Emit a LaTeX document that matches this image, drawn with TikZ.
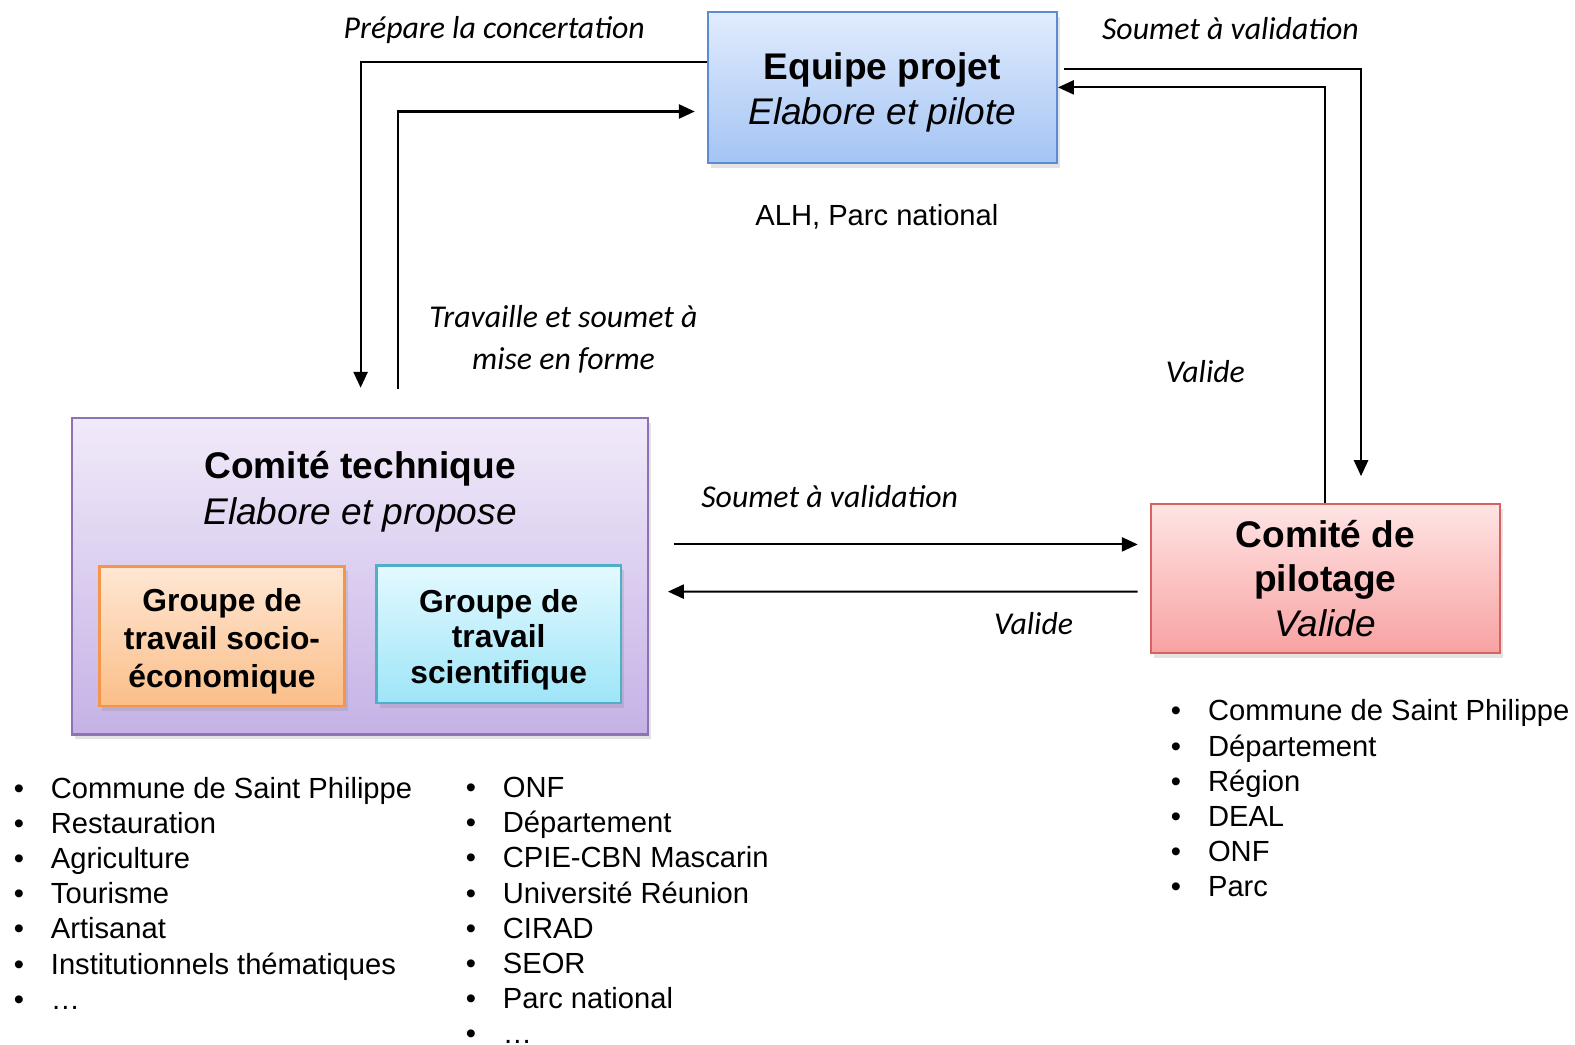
\documentclass[tikz,border=0pt]{standalone}
\usepackage{fontspec}
\setmainfont{Liberation Sans}
\newfontfamily\calibri{Carlito}
\usetikzlibrary{arrows.meta,shadows,calc}
\definecolor{eptop}{HTML}{E1ECFD}
\definecolor{epbot}{HTML}{A4C4F4}
\definecolor{epline}{HTML}{5B8BD0}
\definecolor{cttop}{HTML}{F1EAF9}
\definecolor{ctbot}{HTML}{C5B2E6}
\definecolor{ctline}{HTML}{8E72B5}
\definecolor{gstop}{HTML}{FFE7D4}
\definecolor{gsbot}{HTML}{FBBE88}
\definecolor{gsline}{HTML}{F4954A}
\definecolor{sctop}{HTML}{E4F9FF}
\definecolor{scbot}{HTML}{9DE5F8}
\definecolor{scline}{HTML}{4EAFC9}
\definecolor{cptop}{HTML}{FFE4E4}
\definecolor{cpbot}{HTML}{F8A2A2}
\definecolor{cpline}{HTML}{D9625F}
\newcommand{\itm}[1]{\makebox[0.37cm][l]{\textbullet}#1}

\begin{document}
\begin{tikzpicture}[x=0.01cm, y=-0.01cm,
    box/.style={draw, line width=0.7pt, align=center, inner sep=0pt,
      drop shadow={shadow xshift=0.03cm, shadow yshift=-0.05cm, opacity=0.22}},
    title/.style={font=\fontsize{10.5}{12.8}\selectfont},
    grp/.style={font=\fontsize{9}{10.6}\selectfont\bfseries},
    lbl/.style={font=\fontsize{9}{11.9}\selectfont\calibri\itshape, inner sep=0pt},
    txt/.style={font=\fontsize{8.25}{9.96}\selectfont, inner sep=0pt},
    lst/.style={txt, anchor=north west, align=left},
    arr/.style={-{Triangle[length=4.5pt,width=4pt]}, line width=0.6pt}]
  \useasboundingbox (0,0) rectangle (1568,1040);

  \node at (878.5,87) [box, top color=eptop, bottom color=epbot, draw=epline,
    minimum width=3.47cm, minimum height=1.5cm, title] (ep) {\rule{0pt}{10.4pt}\textbf{Equipe projet}\\\textit{Elabore et pilote}};
  \node at (873,216) [txt] (alh) {ALH, Parc national};

  \node at (358.5,573.5) [box, top color=cttop, bottom color=ctbot, draw=ctline,
    minimum width=5.73cm, minimum height=3.15cm] (ct) {};
  \node at (358.5,489.5) [title, align=center] (ct_title) {\textbf{Comité technique}\\\textit{Elabore et propose}};
  \node at (221,633.5) [box, top color=gstop, bottom color=gsbot, draw=gsline,
    minimum width=2.44cm, minimum height=1.39cm, grp, font=\fontsize{9}{10.7}\selectfont\bfseries] (gs) {\rule{0pt}{9.2pt}Groupe de\\travail socio-\\économique};
  \node at (496.5,631.5) [box, top color=sctop, bottom color=scbot, draw=scline,
    minimum width=2.43cm, minimum height=1.37cm, grp, font=\fontsize{9}{9.96}\selectfont\bfseries] (gsc) {\rule{0pt}{9.6pt}Groupe de\\travail\\scientifique};

  \node at (1319.5,576) [box, top color=cptop, bottom color=cpbot, draw=cpline,
    minimum width=3.47cm, minimum height=1.48cm, font=\fontsize{10.5}{12.5}\selectfont] (cp) {\textbf{Comité de}\\\textbf{pilotage}\\\textit{Valide}};

  \coordinate (ct_in) at (359,386);
  \coordinate (ct_out) at (396,387);
  \coordinate (cp_in) at (1355,474);
  \coordinate (sv_start) at (671,542);
  \coordinate (va_end) at (665,589);

  \draw[arr] ([yshift=0.25cm]ep.west) -| (ct_in);
  \draw[arr, shorten >=0.12cm] (ct_out) |- ([yshift=-0.24cm]ep.west);
  \draw[arr] ([xshift=0.06cm,yshift=0.18cm]ep.east) -| (cp_in);
  \draw[arr] (cp.north) |- (ep.east);
  \draw[arr, shorten >=0.12cm] (sv_start) -- (sv_start -| cp.west);
  \draw[arr, shorten <=0.12cm] ([yshift=-0.13cm]cp.west) -- (va_end);

  \node at (492,30) [lbl] (l_prep) {Prépare la concertation};
  \node at (1225,28) [lbl] (l_soum_ep) {Soumet à validation};
  \node at (561,337.5) [lbl, align=center] (l_trav) {Travaille et soumet à\\mise en forme};
  \node at (1200,370) [lbl] (l_val_ep) {Valide};
  \node at (826,494) [lbl] (l_soum_cp) {Soumet à validation};
  \node at (1029,621) [lbl] (l_val_ct) {Valide};

  \node at (13,773) [lst] (lst_socio) {\itm{Commune de Saint Philippe}\\\itm{Restauration}\\\itm{Agriculture}\\\itm{Tourisme}\\\itm{Artisanat}\\\itm{Institutionnels thématiques}\\\itm{…}};
  \node at (463,773) [lst] (lst_sci) {\itm{ONF}\\\itm{Département}\\\itm{CPIE-CBN Mascarin}\\\itm{Université Réunion}\\\itm{CIRAD}\\\itm{SEOR}\\\itm{Parc national}\\\itm{…}};
  \node at (1165,696) [lst] (lst_pil) {\itm{Commune de Saint Philippe}\\\itm{Département}\\\itm{Région}\\\itm{DEAL}\\\itm{ONF}\\\itm{Parc}};
\end{tikzpicture}
\end{document}
